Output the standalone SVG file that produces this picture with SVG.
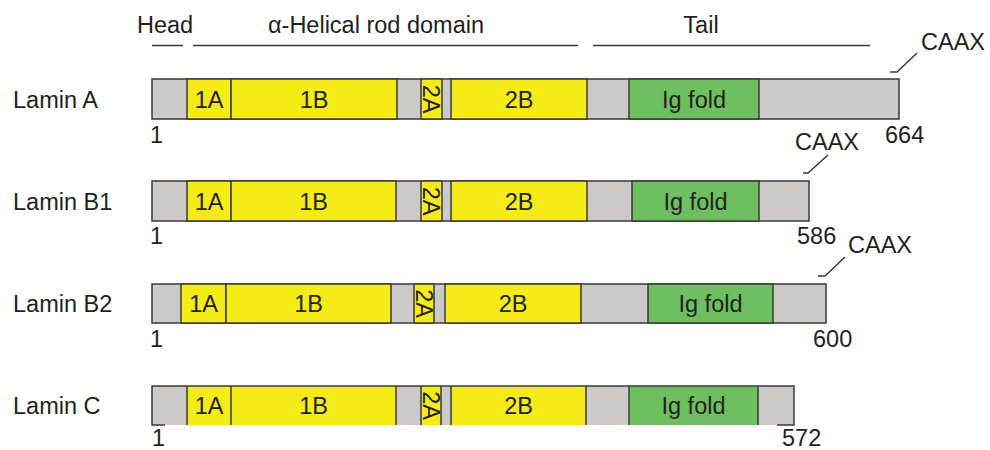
<svg xmlns="http://www.w3.org/2000/svg" width="990" height="450" viewBox="0 0 990 450">
<style>
text{font-family:"Liberation Sans",Arial,sans-serif;font-size:23.5px;fill:#231f20}
.c{text-anchor:middle}
.g{fill:#cbcac9;stroke:#3a3a3a;stroke-width:1.5}
.y{fill:#f4eb17;stroke:#3a3a3a;stroke-width:1.5}
.v{fill:#6dbf5f;stroke:#3a3a3a;stroke-width:1.5}
.gf{fill:#cbcac9}
.yf{fill:#f4eb17}
.vf{fill:#6dbf5f}
.ln{fill:none;stroke:#3a3a3a;stroke-width:1.5}
</style>
<rect width="990" height="450" fill="#fff"/>
<g id="header">
<text x="137" y="33">Head</text>
<text class="c" x="376" y="33">α-Helical rod domain</text>
<text class="c" x="701" y="33">Tail</text>
</g>
<g id="connectors">
<path class="ln" d="M152,45.5H183M193,45.5H578M593,45.5H870"/>
<path class="ln" d="M890,72H897L917,53"/>
<path class="ln" d="M803,173H808L828,155"/>
<path class="ln" d="M818,276H825L845,257"/>
</g>
<g id="laminA">
<text x="13" y="107.5">Lamin A</text>
<rect class="g" x="152" y="79" width="747" height="40"/>
<rect class="y" x="187" y="79" width="44" height="40"/>
<rect class="y" x="231" y="79" width="166" height="40"/>
<rect class="y" x="421" y="79" width="21" height="40"/>
<rect class="y" x="451" y="79" width="136" height="40"/>
<rect class="v" x="629" y="79" width="130" height="40"/>
<text class="c" x="209" y="107.5">1A</text>
<text class="c" x="314" y="107.5">1B</text>
<text class="c" transform="translate(431.5,99) rotate(90)" y="8.4">2A</text>
<text class="c" x="519" y="107.5">2B</text>
<text class="c" x="694" y="107.5">Ig fold</text>
<text x="150" y="143">1</text>
<text x="885" y="143">664</text>
<text x="921" y="50">CAAX</text>
</g>
<g id="laminB1">
<text x="13" y="209.5">Lamin B1</text>
<rect class="g" x="152" y="181" width="657" height="40"/>
<rect class="y" x="187" y="181" width="44" height="40"/>
<rect class="y" x="231" y="181" width="165" height="40"/>
<rect class="y" x="421" y="181" width="21" height="40"/>
<rect class="y" x="451" y="181" width="136" height="40"/>
<rect class="v" x="632" y="181" width="127" height="40"/>
<text class="c" x="209" y="209.5">1A</text>
<text class="c" x="313.5" y="209.5">1B</text>
<text class="c" transform="translate(431.5,201) rotate(90)" y="8.4">2A</text>
<text class="c" x="519" y="209.5">2B</text>
<text class="c" x="695.5" y="209.5">Ig fold</text>
<text x="150" y="244">1</text>
<text x="797" y="244">586</text>
<text x="795" y="150">CAAX</text>
</g>
<g id="laminB2">
<text x="13" y="312">Lamin B2</text>
<rect class="g" x="152" y="284" width="674" height="39"/>
<rect class="y" x="181" y="284" width="45" height="39"/>
<rect class="y" x="226" y="284" width="165" height="39"/>
<rect class="y" x="414" y="284" width="20" height="39"/>
<rect class="y" x="445" y="284" width="136" height="39"/>
<rect class="v" x="648" y="284" width="125" height="39"/>
<text class="c" x="203.5" y="312">1A</text>
<text class="c" x="308.5" y="312">1B</text>
<text class="c" transform="translate(424,303.5) rotate(90)" y="8.4">2A</text>
<text class="c" x="513" y="312">2B</text>
<text class="c" x="710.5" y="312">Ig fold</text>
<text x="150" y="347">1</text>
<text x="813" y="347">600</text>
<text x="848" y="253">CAAX</text>
</g>
<g id="laminC">
<text x="13" y="414">Lamin C</text>
<rect class="gf" x="152" y="386" width="642" height="39"/>
<rect class="yf" x="187" y="386" width="44" height="39"/>
<rect class="yf" x="231" y="386" width="165" height="39"/>
<rect class="yf" x="421" y="386" width="20" height="39"/>
<rect class="yf" x="451" y="386" width="135" height="39"/>
<rect class="vf" x="629" y="386" width="129" height="39"/>
<path class="ln" d="M165,425H152V386H794V425H777M187,386V425M231,386V425M396,386V425M421,386V425M441,386V425M451,386V425M586,386V425M629,386V425M758,386V425"/>
<text class="c" x="209" y="414">1A</text>
<text class="c" x="313.5" y="414">1B</text>
<text class="c" transform="translate(431,405.5) rotate(90)" y="8.4">2A</text>
<text class="c" x="518.5" y="414">2B</text>
<text class="c" x="693.5" y="414">Ig fold</text>
<text x="152" y="446">1</text>
<text x="782" y="446">572</text>
</g>
</svg>
